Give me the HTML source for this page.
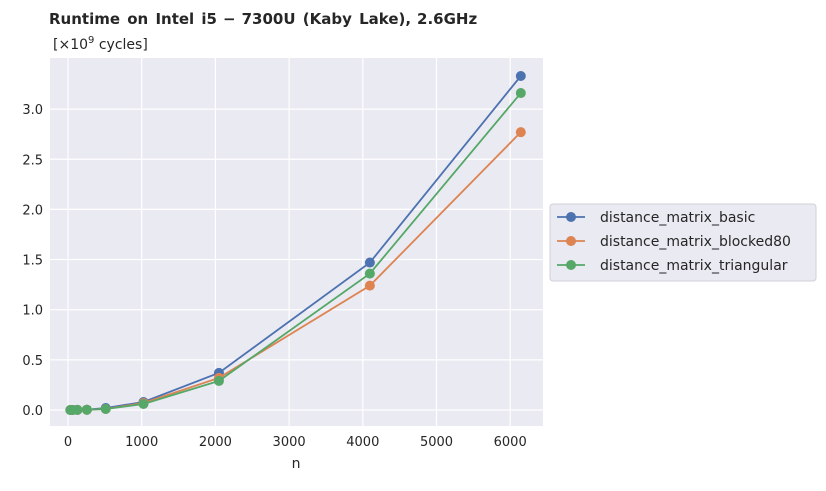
<!DOCTYPE html>
<html><head><meta charset="utf-8"><style>
body{margin:0;background:#fff;font-family:"Liberation Sans","DejaVu Sans",sans-serif;}
svg text{font-family:"DejaVu Sans","Liberation Sans",sans-serif;fill:#262626;}
</style></head><body>
<svg id="chart" width="826" height="486">
<text x="49" y="24" font-size="15" font-weight="bold" word-spacing="2">Runtime on Intel i5<tspan dx="6">−</tspan><tspan dx="6">7300U (Kaby Lake),</tspan><tspan dx="6">2.6GHz</tspan></text>
<text x="53" y="49" font-size="14">[×10<tspan dy="-6" font-size="10">9</tspan><tspan dy="6"> cycles]</tspan></text>
<rect x="50" y="58" width="493" height="368" fill="#eaeaf2"/>
<g id="grid"></g><g id="series"></g>
<text x="296" y="468" font-size="14" text-anchor="middle">n</text>
<g>
<rect x="550" y="204" width="266" height="77" rx="3" fill="#eaeaf2" stroke="#d0d0d8"/>
<g id="legend"></g>
</g>
</svg>
<script>
const categories=[32,64,128,256,512,1024,2048,4096,6144];
const seriesNames=["distance_matrix_basic","distance_matrix_blocked80","distance_matrix_triangular"];
const basicValues=[0.0,0.0,0.001,0.003,0.02,0.08,0.37,1.47,3.33];
const blockedValues=[0.0,0.0,0.001,0.003,0.01,0.07,0.32,1.24,2.77];
const triangularValues=[0.0,0.0,0.001,0.003,0.01,0.06,0.29,1.36,3.16];
const xTicks=[0,1000,2000,3000,4000,5000,6000];
const yTicks=[0,0.5,1.0,1.5,2.0,2.5,3.0];
const colors=["#4c72b0","#dd8452","#55a868"];
const ns="http://www.w3.org/2000/svg";
const xs=v=>68+v*0.0737;
const ys=v=>410-v*100.3;
const grid=document.getElementById('grid');
function mk(t,a,p){const e=document.createElementNS(ns,t);for(const k in a)e.setAttribute(k,a[k]);p.appendChild(e);return e;}
xTicks.forEach(t=>{
 const l=mk('line',{x1:xs(t),x2:xs(t),y1:58,y2:426,stroke:'#fff','stroke-width':1.2},grid);
 
 
 const tx=mk('text',{x:xs(t),y:446,'font-size':13,'text-anchor':'middle'},grid);tx.textContent=t;
 
 
});
yTicks.forEach(t=>{
 const l=mk('line',{x1:50,x2:543,y1:ys(t),y2:ys(t),stroke:'#fff','stroke-width':1.2},grid);
 
 
 const tx=mk('text',{x:43,y:ys(t)+5,'font-size':13,'text-anchor':'end'},grid);tx.textContent=t.toFixed(1);
 
 
});
const sg=document.getElementById('series');
[basicValues,blockedValues,triangularValues].forEach((vals,i)=>{
 const pts=vals.map((v,j)=>xs(categories[j])+','+ys(v)).join(' ');
 const pl=mk('polyline',{points:pts,fill:'none',stroke:colors[i],'stroke-width':1.8},sg);
 
 
 vals.forEach((v,j)=>{
  const c=mk('circle',{cx:xs(categories[j]),cy:ys(v),r:5,fill:colors[i]},sg);
  
  
 });
});
const lg=document.getElementById('legend');
seriesNames.forEach((n,i)=>{
 const y=217+i*24;
 const l=mk('line',{x1:557,x2:585,y1:y,y2:y,stroke:colors[i],'stroke-width':1.8},lg);
 
 
 const c=mk('circle',{cx:571,cy:y,r:5,fill:colors[i]},lg);
 
 
 const t=mk('text',{x:600,y:y+5,'font-size':14},lg);t.textContent=n;
 
 
});
</script>
</body></html>
